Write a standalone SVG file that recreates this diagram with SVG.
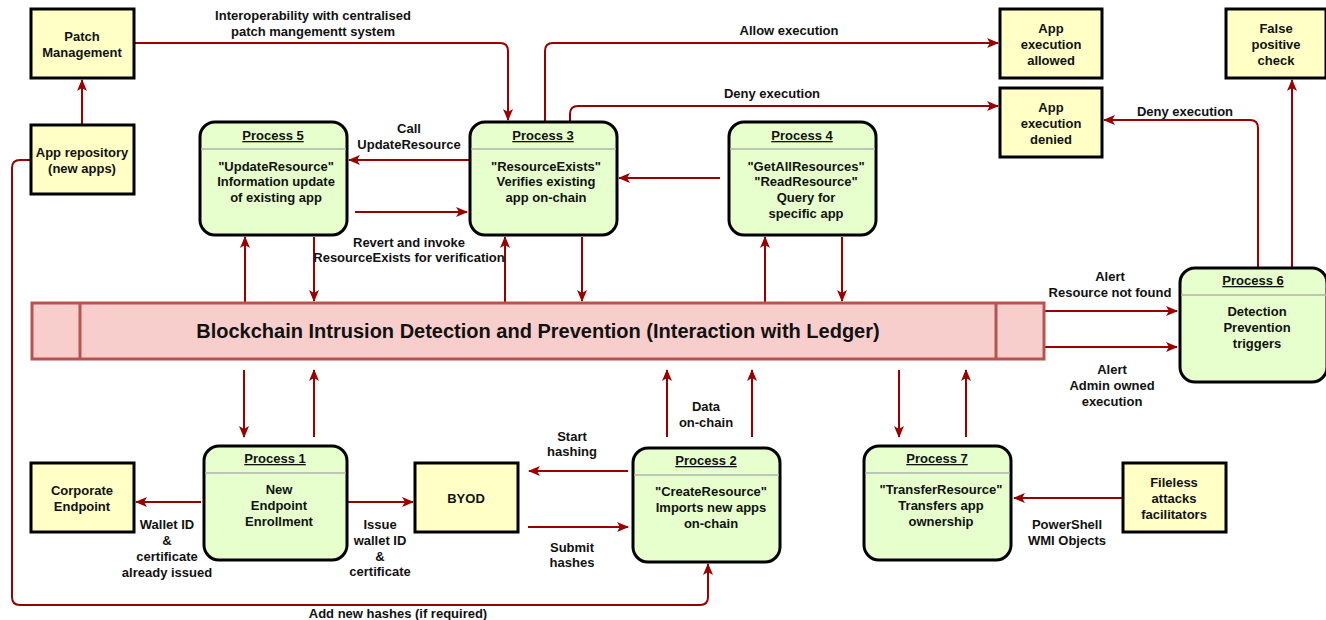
<svg xmlns="http://www.w3.org/2000/svg" width="1326" height="620" viewBox="0 0 1326 620">
<defs>
<marker id="ah" viewBox="0 0 12 10" refX="11" refY="5" markerWidth="12" markerHeight="10" markerUnits="userSpaceOnUse" orient="auto">
<path d="M0,0 L12,5 L0,10 L3,5 Z" fill="#990000"/>
</marker>
<style>
text{font-family:"Liberation Sans",Arial,sans-serif;font-weight:bold;font-size:13px;fill:#111;text-anchor:middle}
.ext{fill:#ffffc6;stroke:#000;stroke-width:3}
.proc{fill:#e6ffcc;stroke:#000;stroke-width:3}
.hdr{stroke:#b0b0b0;stroke-width:1.5}
.title{text-decoration:underline}
.c{fill:none;stroke:#990000;stroke-width:2;marker-end:url(#ah)}
.lbl{font-size:13px}
.bar{fill:#f8cecc;stroke:#b85450;stroke-width:3}
.bartxt{font-size:20px}
</style>
</defs>
<rect width="1326" height="620" fill="#fff"/>

<g id="connectors">
<path class="c" d="M134,43 H500 Q508,43 508,51 V120"/>
<path class="c" d="M82,124 V80"/>
<path class="c" d="M545,122 V51 Q545,43 553,43 H998"/>
<path class="c" d="M570,122 V114 Q570,106 578,106 H998"/>
<path class="c" d="M470,160 H349"/>
<path class="c" d="M355,212 H467"/>
<path class="c" d="M720,178 H619"/>
<path class="c" d="M245,302 V237"/>
<path class="c" d="M314,237 V301"/>
<path class="c" d="M505,302 V237"/>
<path class="c" d="M582,237 V301"/>
<path class="c" d="M765,302 V237"/>
<path class="c" d="M842,237 V301"/>
<path class="c" d="M1045,311 H1177"/>
<path class="c" d="M1045,347 H1177"/>
<path class="c" d="M1258,268 V128 Q1258,120 1250,120 H1104"/>
<path class="c" d="M1292,268 V80"/>
<path class="c" d="M244,370 V437"/>
<path class="c" d="M314,437 V370"/>
<path class="c" d="M201,502 H136"/>
<path class="c" d="M347,502 H413"/>
<path class="c" d="M628,471 H529"/>
<path class="c" d="M528,527 H628"/>
<path class="c" d="M667,437 V370"/>
<path class="c" d="M752,437 V370"/>
<path class="c" d="M899,370 V437"/>
<path class="c" d="M966,437 V370"/>
<path class="c" d="M1123,498 H1014"/>
<path class="c" d="M31,160 H20 Q12,160 12,168 V597 Q12,605 20,605 H700 Q708,605 708,597 V564"/>
</g>

<g id="labels">
<text class="lbl" x="313" y="20">Interoperability with centralised</text>
<text class="lbl" x="313" y="36">patch mangementt system</text>
<text class="lbl" x="789" y="35">Allow execution</text>
<text class="lbl" x="772" y="98">Deny execution</text>
<text class="lbl" x="1185" y="116">Deny execution</text>
<text class="lbl" x="409" y="133">Call</text>
<text class="lbl" x="409" y="149">UpdateResource</text>
<text class="lbl" x="409" y="247">Revert and invoke</text>
<text class="lbl" x="409" y="262">ResourceExists for verification</text>
<text class="lbl" x="1110" y="281">Alert</text>
<text class="lbl" x="1110" y="297">Resource not found</text>
<text class="lbl" x="1112" y="374">Alert</text>
<text class="lbl" x="1112" y="390">Admin owned</text>
<text class="lbl" x="1112" y="406">execution</text>
<text class="lbl" x="706" y="411">Data</text>
<text class="lbl" x="706" y="427">on-chain</text>
<text class="lbl" x="572" y="441">Start</text>
<text class="lbl" x="572" y="456">hashing</text>
<text class="lbl" x="572" y="552">Submit</text>
<text class="lbl" x="572" y="567">hashes</text>
<text class="lbl" x="167" y="529">Wallet ID</text>
<text class="lbl" x="167" y="545">&amp;</text>
<text class="lbl" x="167" y="561">certificate</text>
<text class="lbl" x="167" y="577">already issued</text>
<text class="lbl" x="380" y="529">Issue</text>
<text class="lbl" x="380" y="545">wallet ID</text>
<text class="lbl" x="380" y="561">&amp;</text>
<text class="lbl" x="380" y="576">certificate</text>
<text class="lbl" x="1067" y="529">PowerShell</text>
<text class="lbl" x="1067" y="545">WMI Objects</text>
<text class="lbl" x="398" y="618">Add new hashes (if required)</text>
</g>

<g id="ledger">
<rect class="bar" x="32" y="303" width="1012" height="56"/>
<line x1="80" y1="303" x2="80" y2="359" stroke="#b85450" stroke-width="3"/>
<line x1="996" y1="303" x2="996" y2="359" stroke="#b85450" stroke-width="3"/>
<text class="bartxt" x="538" y="338">Blockchain Intrusion Detection and Prevention (Interaction with Ledger)</text>
</g>

<g id="patch-management">
<rect class="ext" x="31" y="9" width="103" height="69"/>
<text x="82" y="41">Patch</text>
<text x="82" y="57">Management</text>
</g>
<g id="app-repository">
<rect class="ext" x="31" y="125" width="103" height="69"/>
<text x="82" y="157">App repository</text>
<text x="82" y="173">(new apps)</text>
</g>
<g id="app-allowed">
<rect class="ext" x="1000" y="9" width="102" height="69"/>
<text x="1051" y="33">App</text>
<text x="1051" y="49">execution</text>
<text x="1051" y="65">allowed</text>
</g>
<g id="app-denied">
<rect class="ext" x="1000" y="88" width="102" height="69"/>
<text x="1051" y="112">App</text>
<text x="1051" y="128">execution</text>
<text x="1051" y="144">denied</text>
</g>
<g id="false-positive">
<rect class="ext" x="1226" y="9" width="100" height="69"/>
<text x="1276" y="33">False</text>
<text x="1276" y="49">positive</text>
<text x="1276" y="65">check</text>
</g>
<g id="corporate-endpoint">
<rect class="ext" x="31" y="463" width="103" height="69"/>
<text x="82" y="495">Corporate</text>
<text x="82" y="511">Endpoint</text>
</g>
<g id="byod">
<rect class="ext" x="415" y="463" width="103" height="69"/>
<text x="466" y="503">BYOD</text>
</g>
<g id="fileless">
<rect class="ext" x="1123" y="463" width="103" height="69"/>
<text x="1174" y="487">Fileless</text>
<text x="1174" y="503">attacks</text>
<text x="1174" y="519">facilitators</text>
</g>

<g id="process5">
<rect class="proc" x="200" y="122" width="147" height="113" rx="15"/>
<line class="hdr" x1="201" y1="149" x2="346" y2="149"/>
<text class="title" x="273" y="140">Process 5</text>
<text x="276" y="171">"UpdateResource"</text>
<text x="276" y="186">Information update</text>
<text x="276" y="202">of existing app</text>
</g>
<g id="process3">
<rect class="proc" x="470" y="122" width="147" height="113" rx="15"/>
<line class="hdr" x1="471" y1="149" x2="616" y2="149"/>
<text class="title" x="543" y="140">Process 3</text>
<text x="546" y="171">"ResourceExists"</text>
<text x="546" y="186">Verifies existing</text>
<text x="546" y="202">app on-chain</text>
</g>
<g id="process4">
<rect class="proc" x="729" y="122" width="147" height="113" rx="15"/>
<line class="hdr" x1="730" y1="149" x2="875" y2="149"/>
<text class="title" x="802" y="140">Process 4</text>
<text x="806" y="171">"GetAllResources"</text>
<text x="806" y="186">"ReadResource"</text>
<text x="806" y="202">Query for</text>
<text x="806" y="218">specific app</text>
</g>
<g id="process6">
<rect class="proc" x="1180" y="268" width="147" height="114" rx="15"/>
<line class="hdr" x1="1181" y1="295" x2="1326" y2="295"/>
<text class="title" x="1253" y="285">Process 6</text>
<text x="1257" y="316">Detection</text>
<text x="1257" y="332">Prevention</text>
<text x="1257" y="348">triggers</text>
</g>
<g id="process1">
<rect class="proc" x="204" y="446" width="143" height="114" rx="15"/>
<line class="hdr" x1="205" y1="473" x2="346" y2="473"/>
<text class="title" x="275" y="463">Process 1</text>
<text x="279" y="494">New</text>
<text x="279" y="510">Endpoint</text>
<text x="279" y="526">Enrollment</text>
</g>
<g id="process2">
<rect class="proc" x="633" y="448" width="147" height="114" rx="15"/>
<line class="hdr" x1="634" y1="475" x2="779" y2="475"/>
<text class="title" x="706" y="465">Process 2</text>
<text x="711" y="496">"CreateResource"</text>
<text x="711" y="512">Imports new apps</text>
<text x="711" y="528">on-chain</text>
</g>
<g id="process7">
<rect class="proc" x="864" y="446" width="147" height="114" rx="15"/>
<line class="hdr" x1="865" y1="473" x2="1010" y2="473"/>
<text class="title" x="937" y="463">Process 7</text>
<text x="941" y="494">"TransferResource"</text>
<text x="941" y="510">Transfers app</text>
<text x="941" y="526">ownership</text>
</g>
</svg>
